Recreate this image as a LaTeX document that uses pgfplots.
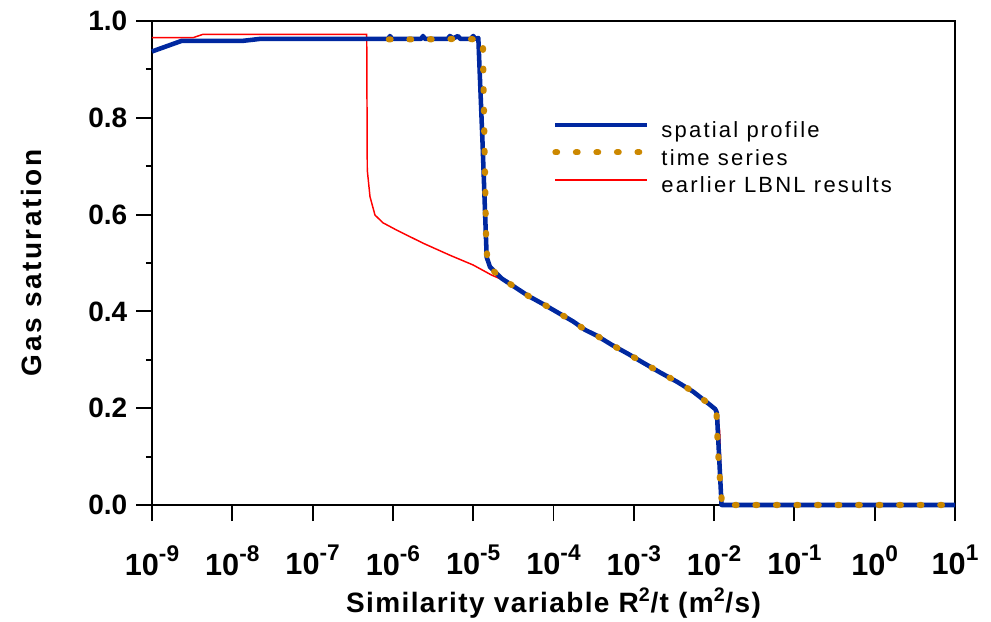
\documentclass[border=0pt]{standalone}
\usepackage{fontspec}
\setmainfont{Liberation Sans}
\newfontfamily\legfont[LetterSpace=10]{Liberation Sans}
\newfontfamily\ylabfont[LetterSpace=9]{Liberation Sans}
\newfontfamily\xlabfont[LetterSpace=5]{Liberation Sans}
\usepackage{pgfplots}
\pgfplotsset{compat=1.18}
\usepackage{pgfplotstable}
\definecolor{spblue}{RGB}{0,40,160}
\definecolor{tsorange}{RGB}{204,136,0}
\newcommand{\xl}[1]{10\raisebox{10.5pt}{\fontsize{17}{19}\selectfont #1}}

\pgfplotstableread{
lx s
-9 0.937
-8.63 0.959
-7.867 0.959
-7.655 0.963
-6.06 0.963
-6.036 0.969
-6.01 0.963
-5.65 0.963
-5.625 0.969
-5.60 0.963
-5.32 0.963
-5.29 0.969
-5.25 0.964
-5.19 0.969
-5.16 0.963
-5.03 0.963
-5.00 0.969
-4.97 0.963
-4.936 0.965
-4.884 0.75
-4.832 0.512
-4.791 0.492
-4.645 0.468
-4.479 0.450
-4.314 0.432
-4.127 0.415
-3.940 0.397
-3.753 0.379
-3.608 0.362
-3.462 0.350
-3.275 0.331
-3.068 0.312
-2.894 0.295
-2.674 0.274
-2.466 0.255
-2.259 0.234
-2.051 0.207
-1.985 0.198
-1.965 0.190
-1.907 0.0
1 0.0
}\spatial

\pgfplotstableread{
lx s
-6.05 0.962
-5.60 0.962
-5.20 0.963
-4.88 0.962
-4.86 0.75
-4.84 0.56
-4.825 0.505
-4.791 0.490
-4.645 0.468
-4.479 0.450
-4.314 0.432
-4.127 0.415
-3.940 0.397
-3.753 0.379
-3.608 0.362
-3.462 0.350
-3.275 0.331
-3.068 0.312
-2.894 0.295
-2.674 0.274
-2.466 0.255
-2.259 0.234
-2.051 0.207
-1.970 0.190
-1.955 0.120
-1.930 0.060
-1.900 0.0
1 0.0
}\timeseries

\pgfplotstableread{
lx s
-9 0.9655
-8.489 0.9655
-8.365 0.9725
-6.326 0.9725
-6.319 0.692
-6.285 0.637
-6.223 0.599
-6.123 0.583
-5.953 0.568
-5.625 0.541
-5.289 0.516
-5.002 0.496
-4.770 0.475
-4.645 0.466
-4.479 0.450
-4.314 0.432
-4.127 0.415
-3.940 0.397
-3.753 0.379
-3.608 0.362
-3.462 0.350
-3.275 0.331
-3.068 0.312
-2.894 0.295
-2.674 0.274
-2.466 0.255
-2.259 0.234
-2.051 0.207
-1.960 0.196
-1.930 0.150
-1.905 0.0
1 0.0
}\lbnl

\begin{document}
\begin{tikzpicture}
\begin{semilogxaxis}[
  scale only axis,
  width=602.25pt, height=363pt,
  xmin=1e-9, xmax=10, ymin=0, ymax=1,
  clip=false,
  axis line style={line width=1.4pt, black},
  every tick/.style={line width=1.4pt, black},
  tick align=outside,
  xtick pos=bottom, ytick pos=left,
  major tick length=12pt, minor tick length=4.5pt,
  xtick={1e-9,1e-8,1e-7,1e-6,1e-5,1e-4,1e-3,1e-2,1e-1,1,10},
  xticklabels={\xl{-9},\xl{-8},\xl{-7},\xl{-6},\xl{-5},\xl{-4},\xl{-3},\xl{-2},\xl{-1},\xl{0},\xl{1}},
  minor xtick={},
  xminorticks=false,
  ytick={0,0.2,0.4,0.6,0.8,1.0},
  yticklabels={0.0,0.2,0.4,0.6,0.8,1.0},
  minor y tick num=1,
  xticklabel style={font=\fontsize{23}{26}\selectfont\bfseries, inner sep=0pt, anchor=north, yshift=-18pt},
  yticklabel style={font=\fontsize{21}{24}\selectfont\bfseries, inner sep=0pt, anchor=east, xshift=-6.4pt},
  xlabel={\xlabfont\bfseries\fontsize{21}{24}\selectfont Similarity variable R\textsuperscript{2}/t (m\textsuperscript{2}/s)},
  ylabel={\ylabfont\bfseries\fontsize{21}{24}\selectfont Gas saturation},
  xlabel style={at={(axis description cs:0.5,-0.2211)}, anchor=base, inner sep=0pt},
  ylabel style={at={(axis description cs:-0.1373,0.5)}, anchor=base, rotate=0, inner sep=0pt},
  legend style={at={(0.4982,0.7928)}, anchor=north west, draw=none, fill=none,
    inner sep=0pt, column sep=8.25pt, row sep=5.1pt,
    font=\legfont\fontsize{16.5}{19}\selectfont,
    nodes={inner sep=0pt, text height=12pt, text depth=3.5pt}},
  legend cell align=left,
  legend image code/.code={\draw[#1] (0pt,5.25pt) -- (69pt,5.25pt);},
]
\addplot[red, line width=1.1pt, forget plot] table[x expr=10^\thisrow{lx}, y=s] {\lbnl};
\addplot[spblue, line width=3.4pt, line join=round] table[x expr=10^\thisrow{lx}, y=s] {\spatial};
\addlegendentry{spatial profile}
\addplot[tsorange, line width=4.6pt, line cap=round, dash pattern=on 1.3pt off 14.1pt] table[x expr=10^\thisrow{lx}, y=s] {\timeseries};
\addlegendentry{time series}
\addlegendimage{red, line width=1.1pt}
\addlegendentry{earlier LBNL results}
\end{semilogxaxis}
\pgfresetboundingbox
\useasboundingbox (-114pt,-87pt) rectangle (629.25pt,378.75pt);
\end{tikzpicture}
\end{document}
